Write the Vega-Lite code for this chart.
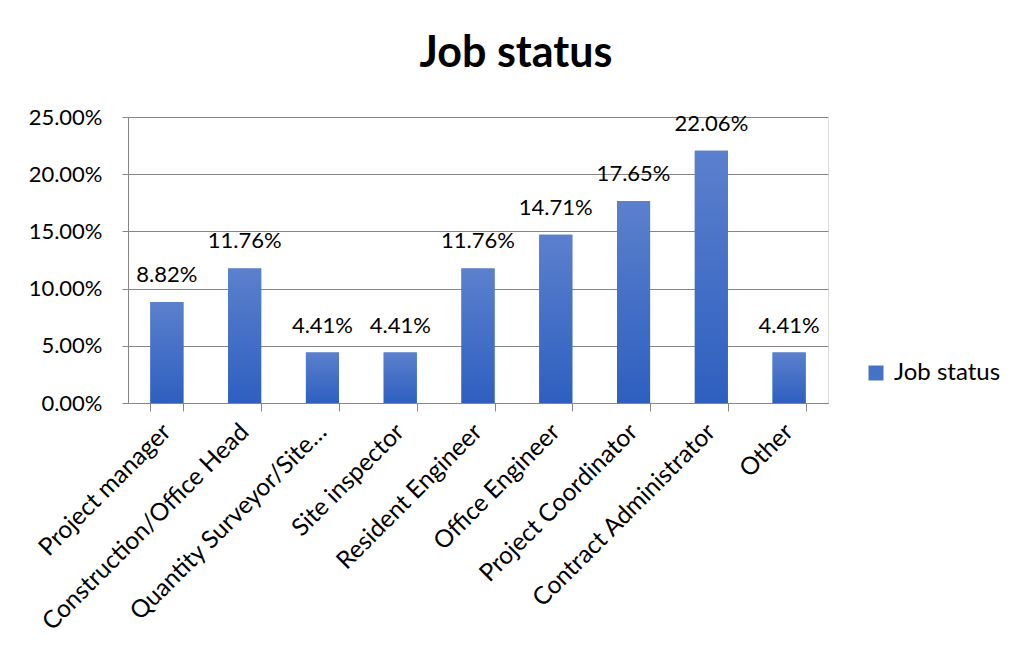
{
  "$schema": "https://vega.github.io/schema/vega-lite/v6.json",
  "autosize": {"type": "none"},
  "padding": {"left": 128, "top": 117, "right": 188, "bottom": 249},
  "width": 700,
  "height": 286,
  "background": "white",
  "title": {
    "text": "Job status",
    "font": "Lato",
    "fontSize": 43,
    "fontWeight": "bold",
    "color": "black",
    "anchor": "middle",
    "frame": "group",
    "dx": 38,
    "offset": 30
  },
  "data": {
    "values": [
      {"job": "Project manager", "value": 0.0882, "series": "Job status"},
      {"job": "Construction/Office Head", "value": 0.1176, "series": "Job status"},
      {"job": "Quantity Surveyor/Site…", "value": 0.0441, "series": "Job status"},
      {"job": "Site inspector", "value": 0.0441, "series": "Job status"},
      {"job": "Resident Engineer", "value": 0.1176, "series": "Job status"},
      {"job": "Office Engineer", "value": 0.1471, "series": "Job status"},
      {"job": "Project Coordinator", "value": 0.1765, "series": "Job status"},
      {"job": "Contract Administrator", "value": 0.2206, "series": "Job status"},
      {"job": "Other", "value": 0.0441, "series": "Job status"}
    ]
  },
  "encoding": {
    "x": {
      "field": "job",
      "type": "nominal",
      "sort": null,
      "scale": {"paddingInner": 0.575, "paddingOuter": 0.2875},
      "axis": {
        "title": null,
        "labelAngle": -45,
        "labelAlign": "right",
        "labelBaseline": "middle",
        "labelFont": "Lato",
        "labelFontSize": 24.5,
        "labelColor": "black",
        "labelPadding": 17,
        "labelLimit": 400,
        "tickBand": "extent",
        "tickSize": 8,
        "tickColor": "#868686",
        "domainColor": "#868686",
        "grid": false
      }
    },
    "y": {
      "field": "value",
      "type": "quantitative",
      "scale": {"domain": [0, 0.25]},
      "axis": {
        "title": null,
        "format": ".2%",
        "values": [0, 0.05, 0.1, 0.15, 0.2, 0.25],
        "labelFont": "Lato",
        "labelFontSize": 22,
        "labelColor": "black",
        "labelPadding": 20,
        "tickSize": 6,
        "tickColor": "#868686",
        "domainColor": "#868686",
        "gridColor": "#868686",
        "grid": true
      }
    }
  },
  "layer": [
    {
      "mark": {"type": "bar"},
      "encoding": {
        "color": {
          "field": "series",
          "type": "nominal",
          "scale": {"range": ["#4472C4"]},
          "legend": {
            "title": null,
            "orient": "none",
            "legendX": 736,
            "legendY": 244,
            "symbolType": "square",
            "symbolSize": 225,
            "symbolStrokeWidth": 0,
            "labelFont": "Lato",
            "labelFontSize": 24,
            "labelColor": "black",
            "labelOffset": 6
          }
        }
      }
    },
    {
      "mark": {
        "type": "bar",
        "fill": {
          "gradient": "linear",
          "x1": 0, "y1": 0, "x2": 0, "y2": 1,
          "stops": [
            {"offset": 0, "color": "#5b80cd"},
            {"offset": 1, "color": "#2e5fc0"}
          ]
        }
      }
    },
    {
      "mark": {
        "type": "text",
        "font": "Lato",
        "fontSize": 22,
        "color": "black",
        "baseline": "alphabetic",
        "dy": -20
      },
      "encoding": {
        "text": {"field": "value", "type": "quantitative", "format": ".2%"}
      }
    }
  ]
}
